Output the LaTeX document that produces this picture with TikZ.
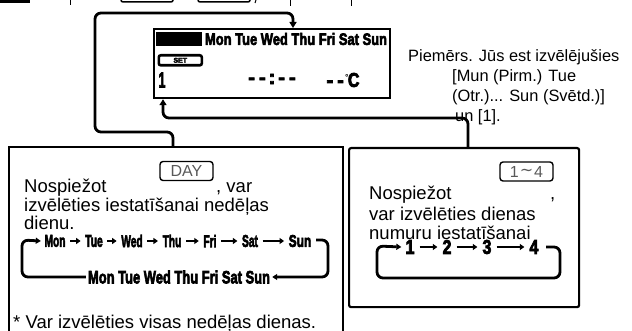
\documentclass[tikz,border=0pt]{standalone}
\usepackage{fontspec}
\setmainfont{Liberation Sans}
\newfontfamily\dejavu{DejaVu Sans}
\newfontfamily\heavy{Liberation Sans}[UprightFont=*-Bold, FakeBold=4]
\usetikzlibrary{arrows.meta}
\begin{document}
\begin{tikzpicture}[x=1pt,y=-1pt,
  conn/.style={line width=2.8pt, rounded corners=6pt, -{Triangle[length=6pt,width=7pt]}},
  loopline/.style={line width=2.8pt, rounded corners=6pt, -{Triangle[length=5pt,width=6pt]}},
  sarr/.style={line width=1.8pt, shorten <=1pt, shorten >=1pt, -{Triangle[length=4.5pt,width=6pt]}},
  frame/.style={draw, line width=2.2pt, inner sep=0, anchor=north west},
  txt/.style={font=\fontsize{18.5}{20}\selectfont, anchor=base west, inner sep=0},
  note/.style={font=\fontsize{16.4}{18}\selectfont, anchor=base west, inner sep=0},
  btn/.style={draw, line width=1.4pt, rounded corners=3pt, minimum width=53pt, minimum height=19pt, inner sep=0, text=black!65, font=\fontsize{16}{16}\selectfont},
  dayw/.style={inner sep=3.5pt, font=\fontsize{17}{17}\selectfont\heavy},
  numw/.style={inner sep=4pt, font=\fontsize{20}{20}\selectfont\heavy}
]
\useasboundingbox (0,0) rectangle (632,331);

% remnants of the line above (cut off)
\fill (0,0) rectangle (30,3);
\draw[line width=1pt] (70,0) -- (70,5) (290,0) -- (290,6) (351,0) -- (351,6);
\draw[line width=1.5pt, rounded corners=2pt] (121,-5) rectangle (173,2);
\draw[line width=1.5pt, rounded corners=2pt] (198,-5) rectangle (250,2);
\draw[line width=1pt] (256,0) -- (255,3);

% LCD display
\node[frame, minimum width=236pt, minimum height=69pt] (lcd) at (153,28) {};
\node[fill=black, minimum width=46pt, minimum height=14pt, inner sep=0, anchor=north west] (inv) at (156,32) {};
\node[draw, line width=2.6pt, rounded corners=2pt, minimum width=43pt, minimum height=10pt, inner sep=0, anchor=north west, font=\fontsize{7}{7}\selectfont\heavy] (setb) at (157.5,54) {SET};
\node[inner sep=0] (lcdrow) at (296,39) {\resizebox{182pt}{12pt}{\heavy Mon Tue Wed Thu Fri Sat Sun}};
\node[inner sep=0] (lcdone) at (162,80) {\resizebox{7pt}{15pt}{\heavy 1}};
\node[inner sep=0, font=\fontsize{20}{20}\selectfont\heavy] (lcdtime) at (272,79) {-\hspace{4pt}-\hspace{3pt}:\hspace{3pt}-\hspace{4pt}-};
\node[inner sep=0, font=\fontsize{20}{20}\selectfont\heavy] (lcdtemp) at (343,80) {-\hspace{4pt}-\hspace{1pt}\raisebox{6pt}{\fontsize{8}{8}\selectfont\dejavu\bfseries °}\kern-1pt\scalebox{0.8}[1]{C}};

% example note
\node[note] (n1) at (408,62) {Piemērs. Jūs est izvēlējušies};
\node[note] (n2) at (452,82) {[Mun (Pirm.) Tue};
\node[note] (n3) at (452,102) {(Otr.)... Sun (Svētd.)]};
\node[note] (n4) at (455,122) {un [1].};

% left box
\node[frame, minimum width=334pt, minimum height=200pt] (lbox) at (8,146) {};
\node[txt] (l1) at (24,193) {Nospiežot};
\node[btn] (daybtn) at (186.5,171) {DAY};
\node[txt] (l1b) at (216,193) {, var};
\node[txt] (l2) at (24,212) {izvēlēties iestatīšanai nedēļas};
\node[txt] (l3) at (24,230) {dienu.};

\node[dayw] (d1) at (55,241) {\scalebox{0.6}[1]{Mon}};
\node[dayw] (d2) at (94,241) {\scalebox{0.6}[1]{Tue}};
\node[dayw] (d3) at (132,241) {\scalebox{0.6}[1]{Wed}};
\node[dayw] (d4) at (172,241) {\scalebox{0.6}[1]{Thu}};
\node[dayw] (d5) at (210,241) {\scalebox{0.6}[1]{Fri}};
\node[dayw] (d6) at (250,241) {\scalebox{0.6}[1]{Sat}};
\node[dayw] (d7) at (300,241) {\scalebox{0.7}[1]{Sun}};
\foreach \a/\b in {d1/d2,d2/d3,d3/d4,d4/d5,d5/d6,d6/d7}
  \draw[sarr] (\a) -- (\b);
\node[inner sep=2pt] (back) at (179,277) {\resizebox{182pt}{13pt}{\heavy Mon Tue Wed Thu Fri Sat Sun}};
\coordinate (rs) at (316,240);
\draw[loopline] (rs) -- (328,240) -- (328,277) -- (back.east);
\draw[loopline] (back.west) -- (22,277) -- (22,240) -- (d1.west);

\node[txt] (lnote) at (13,328) {*\ Var izvēlēties visas nedēļas dienas.};

% right box
\node[frame, rounded corners=2pt, minimum width=230pt, minimum height=159pt] (rbox) at (348,147) {};
\node[btn] (numbtn) at (526.5,171.5) {1\raisebox{2pt}{\kern1pt\dejavu\char"223C\kern1pt}4};
\node[txt] (r1) at (369,200) {Nospiežot};
\node[txt] (r1b) at (550,200) {,};
\node[txt] (r2) at (369,221) {var izvēlēties dienas};
\node[txt] (r3) at (369,240) {numuru iestatīšanai};
\node[numw] (k1) at (410,247) {\scalebox{0.8}[1]{1}};
\node[numw] (k2) at (447,247) {\scalebox{0.8}[1]{2}};
\node[numw] (k3) at (487,247) {\scalebox{0.8}[1]{3}};
\node[numw] (k4) at (534,247) {\scalebox{0.8}[1]{4}};
\foreach \a/\b in {k1/k2,k2/k3,k3/k4}
  \draw[sarr] (\a) -- (\b);
\coordinate (ks) at (546,247);
\draw[loopline] (ks) -- (560,247) -- (560,278) -- (377,278) -- (377,246) -- (k1.west);

% connectors
\coordinate (x173) at (173,0);
\coordinate (x293) at (293,0);
\coordinate (x468) at (468,0);
\coordinate (x163) at (163,0);
\draw[conn] (lbox.north -| x173) -- (173,132) -- (95,132) -- (95,13) -- (293,13) -- (lcd.north -| x293);
\draw[conn] (rbox.north -| x468) -- (468,118) -- (163,118) -- (lcd.south -| x163);
\end{tikzpicture}
\end{document}
